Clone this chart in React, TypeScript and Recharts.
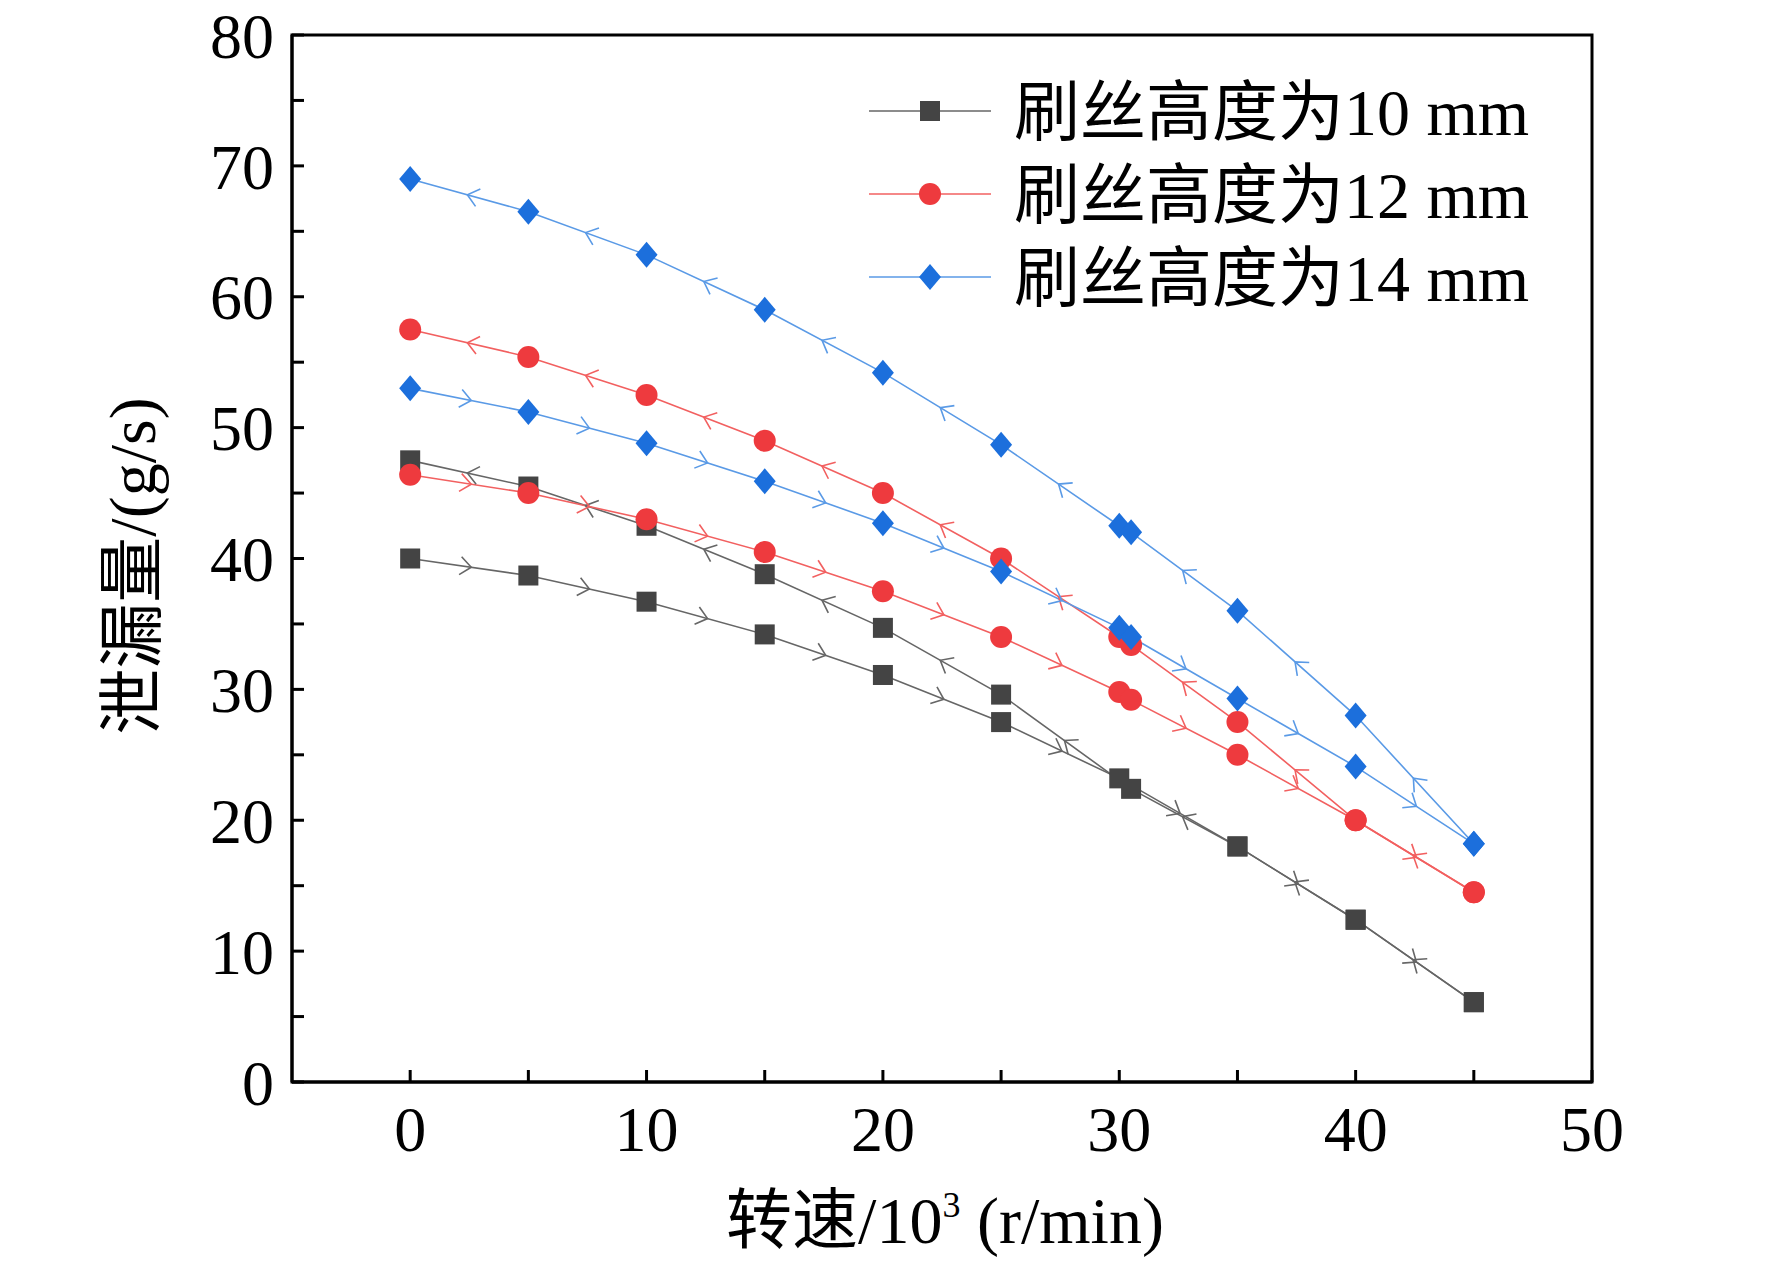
import React from 'react';
import { LineChart, Line, XAxis, YAxis } from 'recharts';

// branch measured with rising speed (arrows point right) and falling speed (arrows point left)
const h10Up = [
  { x: 0, y: 40 }, { x: 5, y: 38.7 }, { x: 10, y: 36.7 }, { x: 15, y: 34.2 }, { x: 20, y: 31.1 },
  { x: 25, y: 27.5 }, { x: 30, y: 23.2 }, { x: 35, y: 18 }, { x: 40, y: 12.4 }, { x: 45, y: 6.1 },
];
const h10Down = [
  { x: 0, y: 47.5 }, { x: 5, y: 45.5 }, { x: 10, y: 42.5 }, { x: 15, y: 38.8 }, { x: 20, y: 34.7 },
  { x: 25, y: 29.6 }, { x: 30.5, y: 22.4 }, { x: 35, y: 18 }, { x: 40, y: 12.4 }, { x: 45, y: 6.1 },
];
const h12Up = [
  { x: 0, y: 46.4 }, { x: 5, y: 45 }, { x: 10, y: 43 }, { x: 15, y: 40.5 }, { x: 20, y: 37.5 },
  { x: 25, y: 34 }, { x: 30, y: 29.8 }, { x: 30.5, y: 29.2 }, { x: 35, y: 25 }, { x: 40, y: 20 }, { x: 45, y: 14.5 },
];
const h12Down = [
  { x: 0, y: 57.5 }, { x: 5, y: 55.4 }, { x: 10, y: 52.5 }, { x: 15, y: 49 }, { x: 20, y: 45 },
  { x: 25, y: 40 }, { x: 30, y: 34 }, { x: 30.5, y: 33.4 }, { x: 35, y: 27.5 }, { x: 40, y: 20 }, { x: 45, y: 14.5 },
];
const h14Up = [
  { x: 0, y: 53 }, { x: 5, y: 51.2 }, { x: 10, y: 48.8 }, { x: 15, y: 45.9 }, { x: 20, y: 42.7 },
  { x: 25, y: 39 }, { x: 30, y: 34.7 }, { x: 30.5, y: 34 }, { x: 35, y: 29.3 }, { x: 40, y: 24.1 }, { x: 45, y: 18.2 },
];
const h14Down = [
  { x: 0, y: 69 }, { x: 5, y: 66.5 }, { x: 10, y: 63.2 }, { x: 15, y: 59 }, { x: 20, y: 54.2 },
  { x: 25, y: 48.7 }, { x: 30, y: 42.5 }, { x: 30.5, y: 42 }, { x: 35, y: 36 }, { x: 40, y: 28 }, { x: 45, y: 18.2 },
];

const xTicks = [0, 5, 10, 15, 20, 25, 30, 35, 40, 45, 50];
const yTicks = [0, 5, 10, 15, 20, 25, 30, 35, 40, 45, 50, 55, 60, 65, 70, 75, 80];
const legendLabels = ['刷丝高度为10 mm', '刷丝高度为12 mm', '刷丝高度为14 mm'];

const W = 1772, H = 1265;
const M = { top: 35, right: 180, bottom: 83, left: 172 };
const PL = 292, PT = 35, PW = 1300, PH = 1047;
const SX = PW / 55, SY = PH / 80;

const BLACK = '#444444', RED = '#ee3a3e', BLUE = '#1c6fdc';
const LBLACK = '#666666', LRED = '#f26060', LBLUE = '#5a9ae6';
const serif = '"Liberation Serif", "Times New Roman", serif';

function marker(shape: string, cx: number, cy: number, fill: string) {
  if (shape === 'square') return <rect x={cx - 10} y={cy - 10} width={20} height={20} fill={fill} />;
  if (shape === 'circle') return <circle cx={cx} cy={cy} r={11} fill={fill} />;
  return <path d={`M${cx},${cy - 13} L${cx + 11},${cy} L${cx},${cy + 13} L${cx - 11},${cy} Z`} fill={fill} />;
}

function makeDot(shape: string, fill: string, line: string, data: { x: number; y: number }[], forward: boolean) {
  return (p: any) => {
    const { cx, cy, index } = p;
    if (cx == null || cy == null) return <g key={index} />;
    let arrow = null;
    const next = data[index + 1];
    if (next) {
      const dx = (next.x - data[index].x) * SX;
      const dy = -(next.y - data[index].y) * SY;
      const len = Math.hypot(dx, dy);
      if (len > 40) {
        const mx = cx + dx / 2, my = cy + dy / 2;
        let ang = (Math.atan2(dy, dx) * 180) / Math.PI;
        if (!forward) ang += 180;
        arrow = (
          <path
            d="M-9,-9 L2,0 L-9,9"
            transform={`translate(${mx},${my}) rotate(${ang})`}
            fill="none"
            stroke={line}
            strokeWidth={1.6}
          />
        );
      }
    }
    return (
      <g key={index}>
        {arrow}
        {marker(shape, cx, cy, fill)}
      </g>
    );
  };
}

const series = [
  { data: h10Up, shape: 'square', fill: BLACK, line: LBLACK, fwd: true },
  { data: h10Down, shape: 'square', fill: BLACK, line: LBLACK, fwd: false },
  { data: h12Up, shape: 'circle', fill: RED, line: LRED, fwd: true },
  { data: h12Down, shape: 'circle', fill: RED, line: LRED, fwd: false },
  { data: h14Up, shape: 'diamond', fill: BLUE, line: LBLUE, fwd: true },
  { data: h14Down, shape: 'diamond', fill: BLUE, line: LBLUE, fwd: false },
];

const tickStyle = { fill: '#000', fontSize: 64, fontFamily: serif };

export default function App() {
  const legend = [
    { shape: 'square', fill: BLACK, line: LBLACK },
    { shape: 'circle', fill: RED, line: LRED },
    { shape: 'diamond', fill: BLUE, line: LBLUE },
  ];
  return (
    <div style={{ position: 'absolute', left: 0, top: 0, width: W, height: H, background: '#fff' }}>
      <LineChart width={W} height={H} margin={M}>
        <XAxis
          xAxisId="b"
          type="number"
          dataKey="x"
          domain={[-5, 50]}
          ticks={xTicks}
          tickSize={-12}
          tickMargin={36}
          interval={0}
          tickFormatter={(v: number) => (v % 10 === 0 ? String(v) : '')}
          stroke="#000"
          strokeWidth={3}
          tick={tickStyle}
          height={100}
        />
        <YAxis
          yAxisId="l"
          type="number"
          domain={[0, 80]}
          ticks={yTicks}
          tickSize={-12}
          tickMargin={30}
          interval={0}
          tickFormatter={(v: number) => (v % 10 === 0 ? String(v) : '')}
          stroke="#000"
          strokeWidth={3}
          tick={tickStyle}
          width={120}
        />
        {series.map((s, i) => (
          <Line
            key={i}
            xAxisId="b"
            yAxisId="l"
            data={s.data}
            dataKey="y"
            type="linear"
            stroke={s.line}
            strokeWidth={1.6}
            dot={makeDot(s.shape, s.fill, s.line, s.data, s.fwd)}
            activeDot={false}
            isAnimationActive={false}
          />
        ))}
      </LineChart>
      <svg style={{ position: 'absolute', left: 0, top: 0, pointerEvents: 'none' }} width={W} height={H}>
        <rect x={PL} y={PT} width={PW} height={PH} fill="none" stroke="#000" strokeWidth={3} />
        {legend.map((l, i) => {
          const y = 111 + i * 83;
          return (
            <g key={i}>
              <line x1={869} x2={991} y1={y} y2={y} stroke={l.line} strokeWidth={1.6} />
              {marker(l.shape, 930, y, l.fill)}
              <text x={1014} y={y + 24} fontSize={66} fontFamily={`${serif}, "Noto Sans CJK SC"`} fill="#000">
                {legendLabels[i]}
              </text>
            </g>
          );
        })}
        <text
          transform="translate(155,566) rotate(-90)"
          textAnchor="middle"
          fontSize={66}
          fontFamily={`${serif}, "Noto Sans CJK SC"`}
          fill="#000"
        >
          泄漏量/(g/s)
        </text>
        <text x={945} y={1243} textAnchor="middle" fontSize={66} fontFamily={`${serif}, "Noto Sans CJK SC"`} fill="#000">
          转速/10<tspan fontSize={36} dy={-26}>3</tspan><tspan dy={26}> (r/min)</tspan>
        </text>
      </svg>
    </div>
  );
}
